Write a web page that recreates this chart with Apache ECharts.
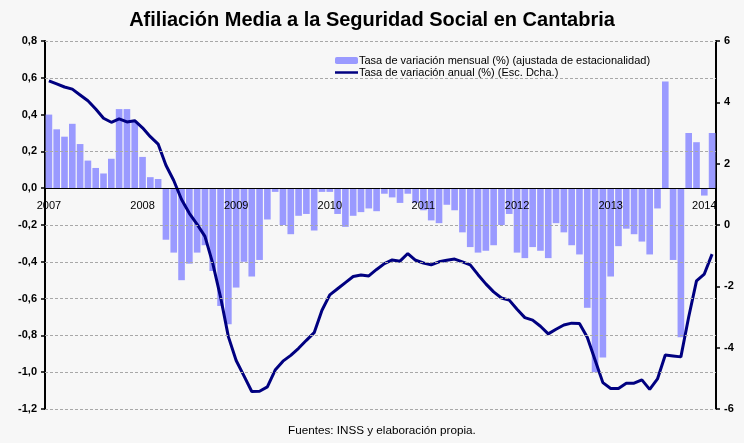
<!DOCTYPE html>
<html>
<head>
<meta charset="utf-8">
<script src="https://cdn.jsdelivr.net/npm/echarts@6/dist/echarts.min.js"></script>
<style>
  html, body { margin: 0; padding: 0; background: #f7f7f7; }
  #chart { width: 744px; height: 443px; }
</style>
</head>
<body>
<div id="chart"></div>
<script>
// categorias: meses de ene-2007 a feb-2014
const years = ["2007", "2008", "2009", "2010", "2011", "2012", "2013", "2014"];
const months = ["ene", "feb", "mar", "abr", "may", "jun", "jul", "ago", "sep", "oct", "nov", "dic"];
const lastYearMonths = 2;

// tasa de variacion mensual (%) (ajustada de estacionalidad) - eje izquierdo
const mensual = [
  0.40, 0.32, 0.28, 0.35, 0.24, 0.15, 0.11, 0.08, 0.16, 0.43, 0.43, 0.36,
  0.17, 0.06, 0.05, -0.28, -0.35, -0.50, -0.41, -0.35, -0.31, -0.45, -0.64, -0.74,
  -0.54, -0.40, -0.48, -0.39, -0.17, -0.02, -0.20, -0.25, -0.15, -0.14, -0.23, -0.02,
  -0.02, -0.14, -0.21, -0.15, -0.13, -0.11, -0.125, -0.03, -0.05, -0.08, -0.03, -0.08,
  -0.12, -0.175, -0.19, -0.09, -0.12, -0.24, -0.32, -0.35, -0.34, -0.31, -0.20, -0.14,
  -0.35, -0.38, -0.32, -0.34, -0.38, -0.19, -0.24, -0.31, -0.36, -0.65, -1.00, -0.92,
  -0.48, -0.315, -0.22, -0.25, -0.29, -0.36, -0.11, 0.58, -0.39, -0.81, 0.30, 0.25,
  -0.04, 0.30
];

// tasa de variacion anual (%) - eje derecho
const anual = [
  4.70, 4.60, 4.50, 4.43, 4.24, 4.05, 3.78, 3.48, 3.35, 3.46, 3.36, 3.40,
  3.17, 2.88, 2.64, 1.95, 1.45, 0.83, 0.38, 0.02, -0.37, -1.25, -2.35, -3.64,
  -4.42, -4.92, -5.43, -5.42, -5.28, -4.73, -4.44, -4.25, -4.02, -3.76, -3.51, -2.78,
  -2.28, -2.08, -1.88, -1.68, -1.63, -1.66, -1.45, -1.26, -1.14, -1.18, -0.93, -1.15,
  -1.24, -1.30, -1.20, -1.15, -1.11, -1.20, -1.30, -1.62, -1.92, -2.18, -2.38, -2.45,
  -2.75, -3.02, -3.10, -3.30, -3.55, -3.40, -3.26, -3.20, -3.21, -3.66, -4.40, -5.14,
  -5.33, -5.33, -5.16, -5.16, -5.05, -5.36, -5.02, -4.24, -4.27, -4.30, -3.00, -1.82,
  -1.60, -0.95
];

// lineas de division (la de 0,4 no aparece en el original)
const gridValues = [0.8, 0.6, 0.2, -0.2, -0.4, -0.6, -0.8, -1.0, -1.2];

const nameMensual = "Tasa de variación mensual (%) (ajustada de estacionalidad)";
const nameAnual = "Tasa de variación anual (%) (Esc. Dcha.)";

let categories = [];
years.forEach((y, i) => {
  let n = i === years.length - 1 ? lastYearMonths : 12;
  for (let m = 0; m < n; m++) categories.push(y + "-" + months[m]);
});

const font = "Liberation Sans, Arial, sans-serif";

let option = {
  animation: false,
  backgroundColor: "#f7f7f7",
  textStyle: { fontFamily: font },
  title: [
    {
      text: "Afiliación Media a la Seguridad Social en Cantabria",
      left: "center",
      top: 5,
      textStyle: { fontSize: 20, fontWeight: "bold", color: "#000", fontFamily: font }
    },
    {
      text: "Fuentes: INSS y elaboración propia.",
      left: 288,
      top: 425,
      padding: 0,
      textStyle: { fontSize: 11.7, fontWeight: "normal", color: "#000", fontFamily: font }
    }
  ],
  legend: {
    data: [nameMensual, { name: nameAnual, icon: "path://M0,0L23,0L23,2.5L0,2.5Z" }],
    orient: "vertical",
    left: 303,
    top: 47,
    padding: [8, 24, 10, 32],
    backgroundColor: "#f7f7f7",
    itemWidth: 23,
    itemHeight: 7,
    itemGap: 1,
    z: 2,
    textStyle: { fontSize: 11, color: "#000", fontFamily: font, padding: [0, 0, 0, -4] }
  },
  grid: { left: 45, right: 28, top: 41, bottom: 34 },
  xAxis: {
    type: "category",
    data: categories,
    z: 6,
    axisLine: { onZero: true, onZeroAxisIndex: 0, lineStyle: { color: "#000", width: 1 } },
    axisTick: { show: false },
    axisLabel: {
      interval: (idx) => idx % 12 === 0,
      formatter: (v) => v.slice(0, 4),
      fontSize: 11,
      color: "#000",
      margin: -209
    }
  },
  yAxis: [
    {
      type: "value",
      min: -1.2,
      max: 0.8,
      interval: 0.2,
      axisLine: { show: true, lineStyle: { color: "#000", width: 2 } },
      axisTick: { show: true, length: 4, lineStyle: { color: "#000", width: 1.5 } },
      splitLine: { show: false },
      axisLabel: {
        formatter: (v) => v.toFixed(1).replace(".", ","),
        fontSize: 11,
        fontWeight: "bold",
        color: "#000",
        margin: 8
      }
    },
    {
      type: "value",
      min: -6,
      max: 6,
      interval: 2,
      position: "right",
      axisLine: { show: true, lineStyle: { color: "#000", width: 2 } },
      axisTick: { show: true, length: 4, lineStyle: { color: "#000", width: 1.5 } },
      splitLine: { show: false },
      axisLabel: { fontSize: 11, fontWeight: "bold", color: "#000", margin: 8 }
    }
  ],
  series: [
    {
      // solo para las lineas de division discontinuas
      type: "line",
      yAxisIndex: 0,
      data: categories.map(() => null),
      z: 1,
      silent: true,
      markLine: {
        silent: true,
        symbol: "none",
        label: { show: false },
        lineStyle: { color: "#a8a8a8", type: [3, 2], width: 1 },
        data: gridValues.map((v) => ({ yAxis: v }))
      }
    },
    {
      name: nameMensual,
      type: "bar",
      yAxisIndex: 0,
      data: mensual,
      barCategoryGap: "15%",
      itemStyle: { color: "#9a9aff" },
      z: 3
    },
    {
      name: nameAnual,
      type: "line",
      yAxisIndex: 1,
      data: anual,
      symbol: "none",
      lineStyle: { color: "#000080", width: 3 },
      itemStyle: { color: "#000080" },
      z: 4
    }
  ]
};

let myChart = echarts.init(document.getElementById("chart"));
myChart.setOption(option);
</script>
</body>
</html>
